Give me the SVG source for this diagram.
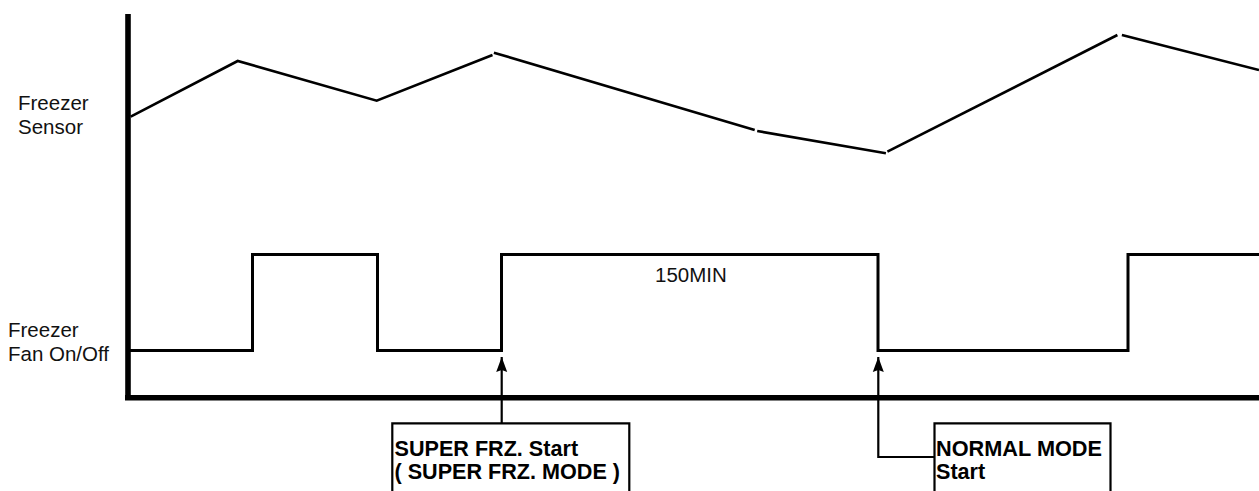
<svg xmlns="http://www.w3.org/2000/svg" width="1259" height="491" viewBox="0 0 1259 491">
<style>
.lbl{font-family:"Liberation Sans",Arial,sans-serif;font-size:20.5px;fill:#111}
.box{fill:#fff;stroke:#000;stroke-width:2.2}
.btxt{font-family:"Liberation Sans",Arial,sans-serif;font-size:21.6px;font-weight:bold;fill:#000}
.sig{fill:none;stroke:#000;stroke-width:2.6;stroke-linecap:butt}
.fan{fill:none;stroke:#000;stroke-width:3;stroke-linejoin:miter}
.axis{fill:none;stroke:#000;stroke-width:5.6}
.conn{fill:none;stroke:#000;stroke-width:2.2}
</style>
<defs>
<marker id="ah" markerUnits="userSpaceOnUse" markerWidth="12" markerHeight="16" viewBox="0 0 12 16" refX="6" refY="0" orient="0">
<path d="M6,0 L11.5,15 L6,13 L0.5,15 Z" fill="#000"/>
</marker>
</defs>
<rect width="1259" height="491" fill="#fff"/>
<g id="axes">
<line class="axis" x1="128" y1="14" x2="128" y2="400"/>
<line class="axis" x1="125" y1="397.7" x2="1259" y2="397.7"/>
</g>
<g id="labels">
<text class="lbl" x="18" y="110">Freezer</text>
<text class="lbl" x="18" y="134">Sensor</text>
<text class="lbl" x="8" y="337">Freezer</text>
<text class="lbl" x="8" y="361">Fan On/Off</text>
</g>
<g id="freezer-sensor">
<polyline class="sig" points="130.7,116.7 237.7,61 376.7,100.7 492.5,55"/>
<line class="sig" x1="493.9" y1="52.7" x2="754.7" y2="130"/>
<line class="sig" x1="757.2" y1="131" x2="885.9" y2="153.3"/>
<line class="sig" x1="887.4" y1="151.7" x2="1117.4" y2="35"/>
<line class="sig" x1="1121.9" y1="35" x2="1259" y2="70"/>
</g>
<g id="freezer-fan">
<path class="fan" d="M130,350.5 H252.5 V254.5 H377.5 V350.5 H501.5 V254.5 H878 V350.5 H1128 V254.5 H1259"/>
<text class="lbl" x="655" y="282" font-size="20">150MIN</text>
</g>
<g id="connectors">
<line class="conn" x1="501.7" y1="423" x2="501.7" y2="357" marker-end="url(#ah)"/>
<polyline class="conn" points="934,457 878.3,457 878.3,357" marker-end="url(#ah)"/>
</g>
<g id="super-frz-start">
<path class="box" d="M392.3,492 V423.3 H629.3 V492"/>
<text class="btxt" x="394.5" y="456">SUPER FRZ. Start</text>
<text class="btxt" x="394.5" y="478.5">( SUPER FRZ. MODE )</text>
</g>
<g id="normal-mode-start">
<path class="box" d="M934.5,492 V423.3 H1110.5 V492"/>
<text class="btxt" x="936" y="456" textLength="166" lengthAdjust="spacingAndGlyphs">NORMAL MODE</text>
<text class="btxt" x="936" y="478.5">Start</text>
</g>
</svg>
